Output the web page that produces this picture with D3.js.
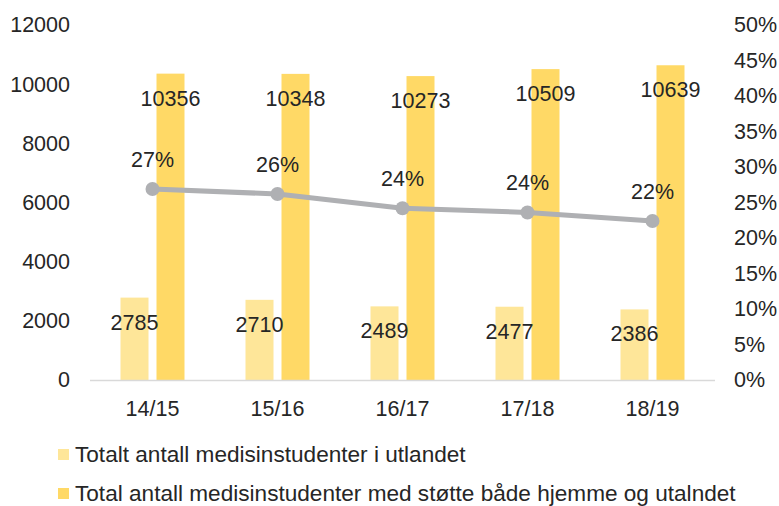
<!DOCTYPE html>
<html>
<head>
<meta charset="utf-8">
<script src="https://cdn.jsdelivr.net/npm/d3@7"></script>
<style>
  html, body { margin: 0; padding: 0; background: #fff; }
  svg { display: block; }
  text { font-family: "Liberation Sans", Arial, sans-serif; fill: #262626; }
</style>
</head>
<body>
<svg id="chart" width="779" height="506"></svg>
<script>
const categories = ["14/15", "15/16", "16/17", "17/18", "18/19"];
const abroad = [2785, 2710, 2489, 2477, 2386];
const supported = [10356, 10348, 10273, 10509, 10639];
const shareValues = [0.269, 0.262, 0.242, 0.236, 0.224];
const shareLabels = ["27%", "26%", "24%", "24%", "22%"];
const leftTicks = [0, 2000, 4000, 6000, 8000, 10000, 12000];
const rightTicks = [0, 0.05, 0.10, 0.15, 0.20, 0.25, 0.30, 0.35, 0.40, 0.45, 0.50];
const seriesNames = ["Totalt antall medisinstudenter i utlandet",
                     "Total antall medisinstudenter med støtte både hjemme og utalndet"];
const colors = ["#FEE699", "#FFD966"];
const lineColor = "#AFB0B3";

const svg = d3.select("#chart");
const plotLeft = 90, plotRight = 715, plotTop = 25, plotBottom = 380;

const x = d3.scaleBand().domain(categories).range([plotLeft, plotRight]).paddingInner(0).paddingOuter(0);
const y = d3.scaleLinear().domain([0, 12000]).range([plotBottom, plotTop]);
const y2 = d3.scaleLinear().domain([0, 0.5]).range([plotBottom, plotTop]);

const barW = 28, gap = 8;
const fs = 21.5;

// left axis
const yAxis = d3.axisLeft(y).tickValues(leftTicks).tickSize(0).tickPadding(0).tickFormat(d3.format("d"));
const gy = svg.append("g").attr("transform", `translate(70,0)`).call(yAxis);
gy.select(".domain").remove();
gy.selectAll("text").style("font-size", fs + "px").attr("fill", "#262626").attr("font-family", "Liberation Sans, Arial, sans-serif");

// right axis
const y2Axis = d3.axisRight(y2).tickValues(rightTicks).tickSize(0).tickPadding(0).tickFormat(d3.format(".0%"));
const gy2 = svg.append("g").attr("transform", `translate(734,0)`).call(y2Axis);
gy2.select(".domain").remove();
gy2.selectAll("text").style("font-size", fs + "px").attr("fill", "#262626").attr("font-family", "Liberation Sans, Arial, sans-serif");

// bars
const centers = categories.map(c => x(c) + x.bandwidth() / 2);
svg.append("g").selectAll("rect").data(abroad).join("rect")
  .attr("x", (d, i) => centers[i] - gap / 2 - barW)
  .attr("y", d => y(d)).attr("width", barW).attr("height", d => plotBottom - y(d))
  .attr("fill", colors[0]);
svg.append("g").selectAll("rect").data(supported).join("rect")
  .attr("x", (d, i) => centers[i] + gap / 2)
  .attr("y", d => y(d)).attr("width", barW).attr("height", d => plotBottom - y(d))
  .attr("fill", colors[1]);

// baseline
svg.append("line").attr("x1", plotLeft).attr("x2", plotRight).attr("y1", plotBottom + 0.5).attr("y2", plotBottom + 0.5)
  .attr("stroke", "#D9D9D9").attr("stroke-width", 1.5);

// x axis
const xAxis = d3.axisBottom(x).tickSize(0).tickPadding(0);
const gx = svg.append("g").attr("transform", `translate(0,${plotBottom})`).call(xAxis);
gx.select(".domain").remove();
gx.selectAll("text").attr("y", 0).attr("dy", "0").attr("transform", "translate(0,36)")
  .style("font-size", fs + "px").attr("fill", "#262626").attr("font-family", "Liberation Sans, Arial, sans-serif");

// line
const line = d3.line().x((d, i) => centers[i]).y(d => y2(d));
svg.append("path").datum(shareValues).attr("d", line).attr("fill", "none")
  .attr("stroke", lineColor).attr("stroke-width", 5).attr("stroke-linejoin", "round");
svg.append("g").selectAll("circle").data(shareValues).join("circle")
  .attr("cx", (d, i) => centers[i]).attr("cy", d => y2(d)).attr("r", 7).attr("fill", lineColor);

// bar labels
svg.append("g").selectAll("text").data(abroad).join("text")
  .attr("x", (d, i) => centers[i] - gap / 2 - barW / 2).attr("y", d => y(d) + 25)
  .attr("text-anchor", "middle").attr("dominant-baseline", "central")
  .style("font-size", fs + "px").text(d => d);
svg.append("g").selectAll("text").data(supported).join("text")
  .attr("x", (d, i) => centers[i] + gap / 2 + barW / 2).attr("y", d => y(d) + 25)
  .attr("text-anchor", "middle").attr("dominant-baseline", "central")
  .style("font-size", fs + "px").text(d => d);

// line labels
svg.append("g").selectAll("text").data(shareValues).join("text")
  .attr("x", (d, i) => centers[i]).attr("y", d => y2(d) - 29)
  .attr("text-anchor", "middle").attr("dominant-baseline", "central")
  .style("font-size", fs + "px").text((d, i) => shareLabels[i]);

// legend
const legend = svg.append("g");
seriesNames.forEach((name, i) => {
  const ly = 454 + i * 39;
  legend.append("rect").attr("x", 58).attr("y", ly - 5).attr("width", 11).attr("height", 11).attr("fill", colors[i]);
  legend.append("text").attr("x", 75).attr("y", ly).attr("dominant-baseline", "central")
    .style("font-size", "22.6px").text(name);
});
</script>
</body>
</html>
